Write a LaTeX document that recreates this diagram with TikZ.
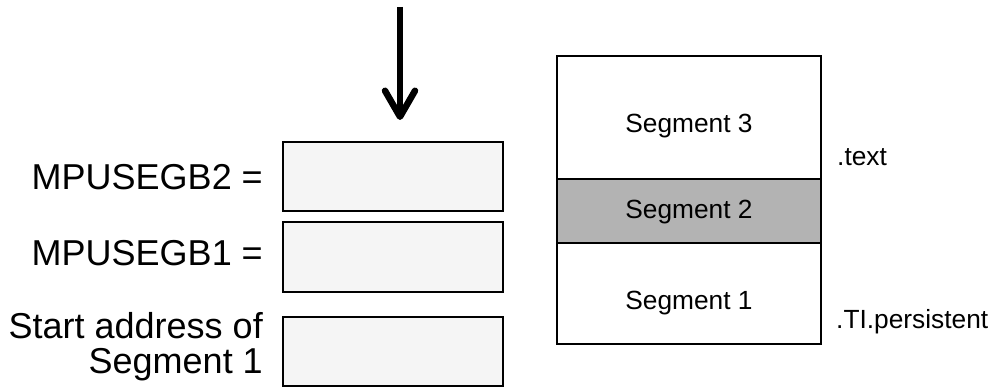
\documentclass[tikz,border=0pt]{standalone}
\usepackage{fontspec}
\setmainfont{Liberation Sans}
\usetikzlibrary{arrows.meta}
\definecolor{boxfill}{HTML}{F5F5F5}
\definecolor{segfill}{HTML}{B3B3B3}
\begin{document}
\begin{tikzpicture}[x=1pt,y=-1pt,
  regbox/.style={draw=black, line width=2pt, fill=boxfill},
  segbox/.style={draw=black, line width=2pt, fill=white},
  biglbl/.style={font=\fontsize{36}{35}\selectfont, anchor=east, inner sep=0pt, align=right},
  seglbl/.style={font=\fontsize{26.3}{30}\selectfont, inner sep=0pt},
  sidelbl/.style={font=\fontsize{26.3}{30}\selectfont, anchor=west, inner sep=0pt},
  bigarrow/.style={line width=6.5pt, -{Straight Barb[length=26pt,width=30pt,line cap=round,line join=round]}}
]
\useasboundingbox (0,0) rectangle (994,387);
% left register boxes
\draw[regbox] (283,142) rectangle (503,211);
\node (b2) at (393,176.5) {};
\draw[regbox] (283,222) rectangle (503,292);
\node (b1) at (393,257) {};
\draw[regbox] (283,317) rectangle (503,386);
\node (b0) at (393,351) {};
% labels
\node[biglbl] (l2) at (263,177) {MPUSEGB2 =};
\node[biglbl] (l1) at (263,253) {MPUSEGB1 =};
\node[biglbl] (l0) at (263,347) {Start address of\\Segment 1};
% arrow
\coordinate (atop) at (400,7);
\coordinate (atip) at (400,120);
\draw[bigarrow] (atop) -- (atip);
% segment stack
\draw[segbox] (557,56) rectangle (821,179);
\draw[segbox, fill=segfill] (557,179) rectangle (821,243);
\draw[segbox] (557,243) rectangle (821,344);
\node[seglbl] (s3) at (689,126) {Segment 3};
\node[seglbl] (s2) at (689,212) {Segment 2};
\node[seglbl] (s1) at (689,303) {Segment 1};
\node[sidelbl] (t1) at (837,157) {.text};
\node[sidelbl] (t2) at (836,322) {.TI.persistent};
\end{tikzpicture}
\end{document}
